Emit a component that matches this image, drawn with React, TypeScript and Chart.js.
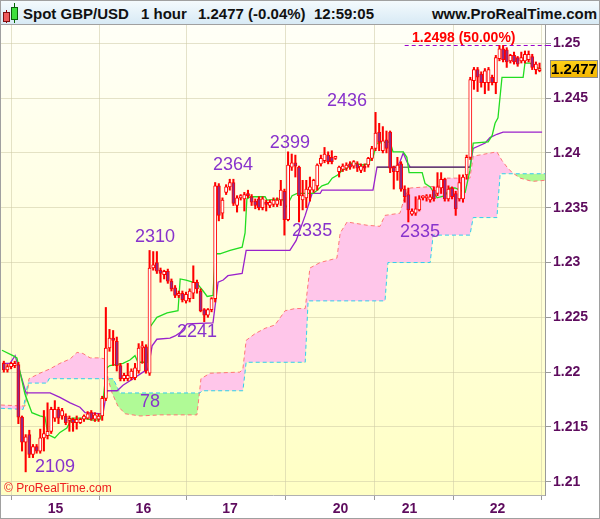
import React, { useEffect, useRef } from 'react';
import { Chart, registerables } from 'chart.js';
Chart.register(...registerables);

// ---- Hourly candles (bar index 0..147) ----
const opens = [1.2208,1.2202,1.2205,1.2206,1.2207,1.2159,1.2136,1.2143,1.2125,1.2132,
 1.2128,1.2140,1.2142,1.2146,1.2158,1.2166,1.2160,1.2160,1.2156,1.2157,
 1.2154,1.2154,1.2157,1.2158,1.2163,1.2157,1.2157,1.2160,1.2176,1.2222,
 1.2231,1.2228,1.2206,1.2194,1.2194,1.2195,1.2195,1.2201,1.2222,1.2223,
 1.2199,1.2295,1.2300,1.2293,1.2289,1.2292,1.2283,1.2277,1.2270,1.2272,
 1.2265,1.2267,1.2272,1.2282,1.2274,1.2257,1.2252,1.2257,1.2267,1.2370,
 1.2345,1.2364,1.2369,1.2373,1.2352,1.2359,1.2358,1.2363,1.2360,1.2356,
 1.2358,1.2350,1.2355,1.2352,1.2353,1.2353,1.2357,1.2365,1.2339,1.2387,
 1.2391,1.2387,1.2357,1.2359,1.2366,1.2366,1.2370,1.2390,1.2393,1.2398,
 1.2396,1.2395,1.2383,1.2385,1.2386,1.2390,1.2388,1.2390,1.2384,1.2388,
 1.2389,1.2395,1.2404,1.2419,1.2402,1.2412,1.2419,1.2387,1.2383,1.2390,
 1.2367,1.2362,1.2344,1.2345,1.2348,1.2359,1.2359,1.2357,1.2366,1.2363,
 1.2368,1.2376,1.2358,1.2368,1.2363,1.2358,1.2358,1.2380,1.2396,1.2466,
 1.2476,1.2472,1.2464,1.2464,1.2469,1.2464,1.2486,1.2495,1.2494,1.2484,
 1.2489,1.2487,1.2484,1.2484,1.2485,1.2488,1.2476,1.2475];
const highs = [1.2210,1.2207,1.2209,1.2210,1.2209,1.2160,1.2143,1.2147,1.2134,1.2134,
 1.2148,1.2165,1.2172,1.2168,1.2174,1.2168,1.2167,1.2162,1.2160,1.2158,
 1.2160,1.2158,1.2161,1.2164,1.2165,1.2163,1.2162,1.2178,1.2259,1.2239,
 1.2238,1.2232,1.2208,1.2199,1.2208,1.2203,1.2208,1.2226,1.2228,1.2225,
 1.2311,1.2310,1.2310,1.2295,1.2293,1.2294,1.2285,1.2279,1.2274,1.2274,
 1.2273,1.2276,1.2297,1.2284,1.2276,1.2258,1.2258,1.2268,1.2373,1.2372,
 1.2359,1.2371,1.2376,1.2376,1.2361,1.2362,1.2364,1.2366,1.2362,1.2358,
 1.2360,1.2360,1.2357,1.2357,1.2359,1.2359,1.2375,1.2367,1.2401,1.2399,
 1.2398,1.2388,1.2375,1.2375,1.2378,1.2376,1.2390,1.2398,1.2405,1.2401,
 1.2402,1.2397,1.2388,1.2390,1.2391,1.2392,1.2393,1.2392,1.2390,1.2390,
 1.2396,1.2406,1.2437,1.2427,1.2424,1.2420,1.2420,1.2388,1.2396,1.2392,
 1.2370,1.2368,1.2349,1.2360,1.2361,1.2361,1.2362,1.2362,1.2369,1.2382,
 1.2382,1.2377,1.2370,1.2369,1.2365,1.2380,1.2380,1.2398,1.2469,1.2478,
 1.2478,1.2474,1.2477,1.2478,1.2471,1.2489,1.2498,1.2498,1.2496,1.2490,
 1.2492,1.2488,1.2492,1.2493,1.2493,1.2490,1.2483,1.2482];
const lows = [1.2200,1.2200,1.2203,1.2204,1.2153,1.2128,1.2109,1.2122,1.2122,1.2126,
 1.2126,1.2128,1.2139,1.2144,1.2155,1.2153,1.2157,1.2152,1.2146,1.2146,
 1.2148,1.2153,1.2155,1.2157,1.2156,1.2155,1.2155,1.2156,1.2174,1.2219,
 1.2206,1.2201,1.2192,1.2192,1.2192,1.2193,1.2193,1.2199,1.2208,1.2199,
 1.2197,1.2293,1.2290,1.2282,1.2285,1.2281,1.2274,1.2268,1.2268,1.2264,
 1.2263,1.2264,1.2267,1.2272,1.2255,1.2246,1.2250,1.2255,1.2264,1.2338,
 1.2340,1.2362,1.2366,1.2352,1.2346,1.2357,1.2347,1.2359,1.2352,1.2349,
 1.2348,1.2348,1.2347,1.2350,1.2351,1.2351,1.2352,1.2325,1.2338,1.2384,
 1.2378,1.2337,1.2348,1.2350,1.2356,1.2364,1.2366,1.2388,1.2391,1.2390,
 1.2390,1.2394,1.2378,1.2383,1.2384,1.2385,1.2386,1.2383,1.2382,1.2383,
 1.2387,1.2393,1.2402,1.2402,1.2400,1.2400,1.2382,1.2367,1.2375,1.2365,
 1.2355,1.2337,1.2343,1.2343,1.2347,1.2357,1.2356,1.2355,1.2356,1.2361,
 1.2363,1.2356,1.2356,1.2358,1.2343,1.2356,1.2355,1.2376,1.2394,1.2458,
 1.2456,1.2460,1.2454,1.2457,1.2462,1.2454,1.2484,1.2483,1.2478,1.2482,
 1.2481,1.2479,1.2482,1.2482,1.2483,1.2476,1.2472,1.2474];
const closes = [1.2202,1.2205,1.2208,1.2208,1.2159,1.2136,1.2141,1.2125,1.2132,1.2128,
 1.2140,1.2144,1.2146,1.2166,1.2166,1.2158,1.2165,1.2154,1.2157,1.2154,
 1.2157,1.2157,1.2160,1.2162,1.2157,1.2161,1.2160,1.2176,1.2222,1.2231,
 1.2229,1.2206,1.2194,1.2197,1.2197,1.2201,1.2204,1.2222,1.2224,1.2201,
 1.2295,1.2298,1.2292,1.2290,1.2292,1.2283,1.2276,1.2270,1.2272,1.2266,
 1.2271,1.2274,1.2282,1.2276,1.2256,1.2252,1.2257,1.2267,1.2370,1.2343,
 1.2357,1.2369,1.2373,1.2354,1.2359,1.2361,1.2362,1.2361,1.2355,1.2352,
 1.2350,1.2358,1.2353,1.2355,1.2357,1.2357,1.2366,1.2339,1.2389,1.2391,
 1.2388,1.2361,1.2361,1.2367,1.2369,1.2375,1.2389,1.2395,1.2399,1.2392,
 1.2392,1.2396,1.2387,1.2388,1.2389,1.2387,1.2392,1.2386,1.2388,1.2386,
 1.2395,1.2404,1.2418,1.2410,1.2411,1.2404,1.2386,1.2383,1.2389,1.2367,
 1.2360,1.2348,1.2347,1.2349,1.2358,1.2360,1.2360,1.2360,1.2358,1.2369,
 1.2376,1.2358,1.2367,1.2360,1.2349,1.2373,1.2378,1.2396,1.2467,1.2476,
 1.2469,1.2464,1.2475,1.2476,1.2464,1.2487,1.2495,1.2485,1.2483,1.2489,
 1.2483,1.2481,1.2487,1.2490,1.2490,1.2478,1.2481,1.2477];

// ---- Ichimoku lines: [bar index, price] ----
const tenkan = [[-0.5,1.2220],[2.5,1.2215],[3.6,1.2213],[5.8,1.2180],[7.7,1.2163],[9.9,1.2160],[11.3,1.2159],[12.1,1.2143],[14.0,1.2140],[15.4,1.2145],[17.3,1.2149],[18.7,1.2158],[21.5,1.2158],[25.0,1.2156],[26.4,1.2157],[26.9,1.2163],[27.8,1.2192],[28.3,1.2204],[29.1,1.2206],[32.7,1.2208],[34.6,1.2211],[36.0,1.2215],[36.8,1.2209],[39.3,1.2209],[40.1,1.2241],[42.0,1.2250],[44.8,1.2254],[47.8,1.2256],[48.4,1.2285],[50.0,1.2284],[53.0,1.2281],[54.7,1.2274],[55.8,1.2269],[57.4,1.2270],[58.0,1.2308],[59.3,1.2308],[62.1,1.2311],[65.4,1.2314],[66.2,1.2327],[66.7,1.2358],[67.6,1.2360],[71.7,1.2360],[72.2,1.2357],[75.8,1.2358],[76.6,1.2357],[77.4,1.2350],[79.1,1.2361],[80.5,1.2363],[84.9,1.2363],[86.0,1.2366],[87.3,1.2370],[89.0,1.2372],[90.1,1.2377],[91.7,1.2380],[92.8,1.2384],[94.2,1.2386],[95.6,1.2391],[96.9,1.2390],[98.6,1.2389],[99.7,1.2390],[101.3,1.2396],[102.4,1.2409],[106.0,1.2410],[106.8,1.2401],[109.6,1.2401],[110.6,1.2396],[111.2,1.2382],[114.8,1.2382],[115.6,1.2372],[117.0,1.2369],[118.9,1.2359],[121.1,1.2361],[122.4,1.2368],[123.8,1.2368],[126.6,1.2364],[127.9,1.2384],[128.8,1.2409],[132.9,1.2410],[134.0,1.2416],[134.8,1.2427],[135.6,1.2432],[136.7,1.2469],[142.5,1.2469],[143.0,1.2482],[144.4,1.2482],[145.8,1.2478],[147.4,1.2477]];
const kijun = [[-0.5,1.2208],[1.7,1.2208],[3.1,1.2215],[6.1,1.2181],[12.7,1.2181],[15.4,1.2177],[18.2,1.2172],[20.9,1.2168],[22.3,1.2163],[27.2,1.2162],[28.3,1.2183],[31.1,1.2183],[32.7,1.2188],[35.5,1.2194],[38.2,1.2200],[39.6,1.2203],[40.7,1.2224],[42.0,1.2230],[45.6,1.2231],[47.0,1.2233],[48.4,1.2236],[50.3,1.2244],[57.4,1.2245],[58.8,1.2282],[60.2,1.2284],[61.5,1.2288],[65.4,1.2290],[66.5,1.2311],[78.5,1.2311],[80.2,1.2320],[82.7,1.2343],[84.6,1.2363],[86.8,1.2363],[87.3,1.2366],[101.3,1.2366],[102.4,1.2387],[107.9,1.2387],[108.7,1.2392],[109.6,1.2400],[110.6,1.2392],[111.5,1.2387],[127.9,1.2387],[128.8,1.2404],[132.1,1.2409],[133.4,1.2414],[135.3,1.2417],[137.0,1.2419],[147.7,1.2419]];
const spanA = [[-0.8,1.2170],[5.8,1.2169],[6.4,1.2178],[6.9,1.2194],[9.9,1.2199],[12.7,1.2203],[15.4,1.2208],[18.2,1.2212],[20.1,1.2218],[21.7,1.2217],[23.7,1.2213],[26.4,1.2213],[27.8,1.2212],[28.6,1.2194],[29.7,1.2181],[31.3,1.2169],[33.3,1.2162],[37.4,1.2160],[42.9,1.2161],[53.0,1.2161],[54.1,1.2194],[56.6,1.2199],[64.8,1.2200],[65.6,1.2203],[66.5,1.2229],[68.9,1.2235],[71.7,1.2240],[74.4,1.2243],[77.2,1.2256],[79.9,1.2258],[82.7,1.2258],[84.0,1.2295],[86.8,1.2300],[91.4,1.2304],[92.3,1.2327],[94.2,1.2337],[99.7,1.2334],[103.2,1.2333],[104.6,1.2343],[108.7,1.2345],[110.1,1.2361],[111.5,1.2368],[120.5,1.2370],[121.6,1.2377],[127.9,1.2377],[128.8,1.2397],[135.3,1.2401],[136.7,1.2393],[138.1,1.2387],[139.5,1.2382],[141.7,1.2377],[145.0,1.2374],[148.5,1.2375]];
const spanB = [[-0.8,1.2167],[5.3,1.2166],[6.6,1.2190],[11.9,1.2190],[12.4,1.2194],[30.0,1.2194],[31.9,1.2181],[53.8,1.2181],[54.4,1.2183],[65.6,1.2183],[66.5,1.2209],[82.7,1.2209],[83.5,1.2265],[104.6,1.2265],[105.4,1.2300],[117.0,1.2300],[117.8,1.2325],[127.9,1.2325],[128.8,1.2341],[135.3,1.2341],[136.2,1.2381],[148.5,1.2381]];
const levelLine = [[102.4,1.2387],[127.9,1.2387]];
const highLine = [[110,1.2498],[148.5,1.2498]];

// ---- Axes and annotations ----
const dayTickIndex = [14.2, 38.3, 62.1, 92.4, 111.3, 135.5];
const dayLabels = ['15', '16', '17', '20', '21', '22'];
const yTickValues = [1.21, 1.215, 1.22, 1.225, 1.23, 1.235, 1.24, 1.245, 1.25];
const markText = ['2109', '2310', '2241', '2364', '2399', '2436', '2335', '2335', '78'];
const markIndex = [14.05, 41.5, 53.0, 62.9, 78.5, 94.2, 84.6, 114.2, 40.1];
const markPrice = [1.2113, 1.2323, 1.2237, 1.2389, 1.2409, 1.2447, 1.2329, 1.2328, 1.2173];
const highValue = 1.2498;
const highPct = '50.00%';
const highLabelIndex = 112.0;
const lastPrice = 1.2477;
const headerTexts = ['Spot GBP/USD', '1 hour', '1.2477 (-0.04%)', '12:59:05'];
const headerLeft = [22, 140, 197, 313];
const siteText = 'www.ProRealTime.com';

const FONT = '"Liberation Sans", Arial, sans-serif';
const AXIS_COLOR = '#5e0c5e';
const GRID = 'rgba(205,203,165,0.55)';

export default function App() {
  const ref = useRef<HTMLCanvasElement | null>(null);
  useEffect(() => {
    document.body.style.margin = '0';
    const canvas = ref.current;
    if (!canvas) return;
    Chart.defaults.font.family = FONT;
    const toPts = (arr: number[][]) => arr.map(([i, v]) => ({ x: i, y: v }));
    const idx = opens.map((_, i) => i);

    const bgPlugin = {
      id: 'bgPlugin',
      beforeDraw(chart: any) {
        const { ctx, chartArea: a } = chart;
        const g = ctx.createLinearGradient(0, a.top, 0, a.bottom);
        g.addColorStop(0, '#fffff7');
        g.addColorStop(1, '#ffffc4');
        ctx.save();
        ctx.fillStyle = g;
        ctx.fillRect(a.left, a.top, a.right - a.left, a.bottom - a.top);
        ctx.restore();
      },
    };

    const textPlugin = {
      id: 'textPlugin',
      afterDatasetsDraw(chart: any) {
        const { ctx, chartArea: a } = chart;
        const x = chart.scales.x, y = chart.scales.y;
        ctx.save();
        ctx.font = '18px ' + FONT;
        ctx.fillStyle = '#8833cc';
        ctx.textAlign = 'center';
        ctx.textBaseline = 'middle';
        markText.forEach((t, k) => {
          ctx.fillText(t, x.getPixelForValue(markIndex[k]), y.getPixelForValue(markPrice[k]));
        });
        ctx.font = 'bold 14px ' + FONT;
        ctx.fillStyle = '#ff0000';
        ctx.textAlign = 'left';
        ctx.textBaseline = 'alphabetic';
        ctx.fillText(highValue.toFixed(4) + ' (' + highPct + ')', x.getPixelForValue(highLabelIndex), y.getPixelForValue(highValue) - 3);
        ctx.font = '12px ' + FONT;
        ctx.fillStyle = '#ee2020';
        ctx.fillText('\u00A9 ProRealTime.com', a.left + 3, a.bottom - 3);
        ctx.restore();
      },
      afterDraw(chart: any) {
        const { ctx, chartArea: a } = chart;
        const y = chart.scales.y;
        const py = Math.round(y.getPixelForValue(lastPrice));
        ctx.save();
        ctx.strokeStyle = '#9900cc';
        ctx.lineWidth = 1;
        const hy = Math.round(y.getPixelForValue(highValue)) + 0.5;
        ctx.beginPath(); ctx.moveTo(a.right, hy); ctx.lineTo(a.right + 6, hy); ctx.stroke();
        const bx = a.right + 5, bw = 48, bh = 18, by = py - 9;
        const g = ctx.createLinearGradient(0, by, 0, by + bh);
        g.addColorStop(0, '#ffd21a');
        g.addColorStop(1, '#f2b400');
        ctx.fillStyle = g;
        ctx.fillRect(bx, by, bw, bh);
        ctx.strokeStyle = '#8a8a8a';
        ctx.strokeRect(bx + 0.5, by + 0.5, bw - 1, bh - 1);
        ctx.fillStyle = '#000';
        ctx.font = 'bold 15px ' + FONT;
        ctx.textAlign = 'center';
        ctx.textBaseline = 'middle';
        ctx.fillText(lastPrice.toFixed(4), bx + bw / 2, py + 1);
        ctx.restore();
      },
    };

    const chart = new Chart(canvas, {
      type: 'bar',
      data: {
        datasets: [
          {
            type: 'line', data: toPts(spanB), borderColor: '#33ccee', borderWidth: 1,
            borderDash: [4, 3], pointRadius: 0, fill: false, order: 19, tension: 0,
          } as any,
          {
            type: 'line', data: toPts(spanA), borderColor: '#ff7777', borderWidth: 1,
            borderDash: [4, 3], pointRadius: 0, order: 20, tension: 0,
            fill: { target: 0, above: 'rgb(255,198,234)', below: 'rgb(176,250,150)' },
          } as any,
          {
            type: 'line', data: toPts(kijun), borderColor: '#9a22cc', borderWidth: 1.3,
            pointRadius: 0, fill: false, order: 9, tension: 0,
          } as any,
          {
            type: 'line', data: toPts(levelLine), borderColor: '#3a3a3a', borderWidth: 1,
            pointRadius: 0, fill: false, order: 8, tension: 0,
          } as any,
          {
            type: 'line', data: toPts(tenkan), borderColor: '#22dd22', borderWidth: 1.3,
            pointRadius: 0, fill: false, order: 7, tension: 0,
          } as any,
          {
            type: 'line', data: toPts(highLine), borderColor: '#9900cc', borderWidth: 1,
            borderDash: [4, 3], pointRadius: 0, fill: false, order: 6, tension: 0,
          } as any,
          {
            type: 'bar', data: idx.map((i) => ({ x: i, y: [lows[i], highs[i]] })),
            backgroundColor: '#ff0000', borderWidth: 0, barThickness: 1.4, grouped: false, order: 2,
          } as any,
          {
            type: 'bar', data: idx.map((i) => ({ x: i, y: [opens[i], closes[i]] })),
            backgroundColor: idx.map((i) => (closes[i] >= opens[i] ? '#ffffff' : '#8e2a88')),
            borderColor: '#ff0000', borderWidth: 1, borderSkipped: false,
            barThickness: 3.2, minBarLength: 2, grouped: false, order: 1,
          } as any,
        ],
      },
      options: {
        responsive: false,
        animation: false,
        devicePixelRatio: 1,
        events: [],
        layout: { padding: 0 },
        plugins: { legend: { display: false }, tooltip: { enabled: false } },
        scales: {
          x: {
            type: 'linear', min: -0.77, max: 148.5, offset: false,
            afterBuildTicks: (s: any) => { s.ticks = dayTickIndex.map((v) => ({ value: v })); },
            afterFit: (s: any) => { s.height = 23; s.paddingLeft = 0; s.paddingRight = 0; },
            ticks: {
              autoSkip: false, maxRotation: 0, padding: 1, color: AXIS_COLOR,
              font: { size: 14, weight: 'bold', family: FONT },
              callback: (_v: any, k: number) => dayLabels[k] ?? '',
            },
            grid: { color: GRID, tickColor: '#9a9a9a', tickLength: 5 },
            border: { display: true, color: '#b0b0b0' },
          },
          y: {
            type: 'linear', position: 'right', min: 1.20879, max: 1.25167,
            afterBuildTicks: (s: any) => { s.ticks = yTickValues.map((v) => ({ value: v })); },
            afterFit: (s: any) => { s.width = 54; s.paddingTop = 0; s.paddingBottom = 0; },
            ticks: {
              padding: 2, color: AXIS_COLOR,
              font: { size: 14, weight: 'bold', family: FONT },
              callback: (v: any) => String(Math.round(Number(v) * 1000) / 1000),
            },
            grid: { color: GRID, tickColor: '#9a9a9a', tickLength: 6 },
            border: { display: true, color: '#9a9a9a' },
          },
        } as any,
      },
      plugins: [bgPlugin, textPlugin],
    } as any);
    return () => chart.destroy();
  }, []);

  return (
    <div style={{ position: 'absolute', left: 0, top: 0, width: 600, height: 519, boxSizing: 'border-box', border: '1px solid #a0a0a0', background: '#fff', overflow: 'hidden' }}>
      <div style={{ position: 'relative', height: 24, boxSizing: 'border-box', borderBottom: '1px solid #a0a0a0', background: 'linear-gradient(#f4fafd, #d8eaf5)', font: 'bold 15px ' + FONT, color: '#111', whiteSpace: 'nowrap' }}>
        <div style={{ position: 'absolute', left: 5, top: 9, width: 1, height: 13, background: '#900' }} />
        <div style={{ position: 'absolute', left: 2, top: 11, width: 5, height: 8, background: '#f05a5a', border: '1px solid #7a1010' }} />
        <div style={{ position: 'absolute', left: 13, top: 2, width: 1, height: 20, background: '#060' }} />
        <div style={{ position: 'absolute', left: 10, top: 6, width: 5, height: 11, background: '#3ee03e', border: '1px solid #0a600a' }} />
        {headerTexts.map((t, k) => (
          <span key={k} style={{ position: 'absolute', left: headerLeft[k], top: 3, lineHeight: '20px' }}>{t}</span>
        ))}
        <span style={{ position: 'absolute', right: 2, top: 3, lineHeight: '20px' }}>{siteText}</span>
      </div>
      <canvas ref={ref} width={598} height={493} style={{ display: 'block' }} />
    </div>
  );
}
